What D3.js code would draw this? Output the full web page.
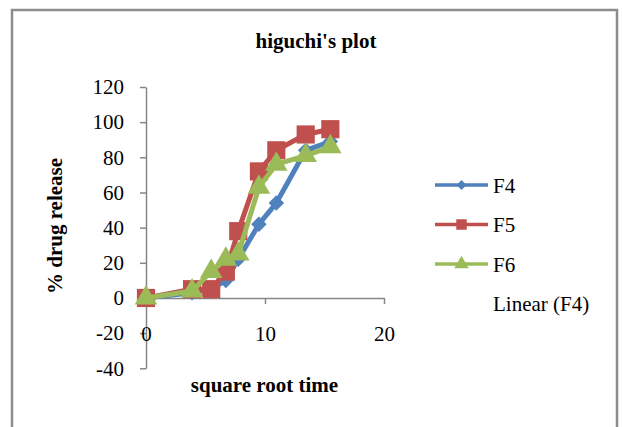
<!DOCTYPE html>
<html lang="en">
  <head>
    <meta charset="utf-8" />
    <title>higuchi's plot</title>
    <style>
      body { margin: 0; background: #fff; }
      svg text { font-family: "Liberation Serif", "Times New Roman", serif; fill: #000; }
    </style>
  </head>
  <body>
    <div id="graph-display"></div>

    <script src="https://d3js.org/d3.v7.min.js"></script>
    <script>
      // data
      const sqrtTime = [0, 3.87, 5.48, 6.71, 7.75, 9.49, 10.95, 13.42, 15.49];
      const f4 = [0, 3, 5, 10, 22, 42, 54, 84, 89];
      const f5 = [0, 5, 5, 15, 38, 72, 84, 93, 96];
      const f6 = [0, 4, 15, 22, 25, 63, 76, 81, 86];
      const seriesNames = ["F4", "F5", "F6"];
      const xTicks = [0, 10, 20];
      const yTicks = [-40, -20, 0, 20, 40, 60, 80, 100, 120];

      const width = 622, height = 427;
      const colors = ["#4F81BD", "#C0504D", "#9BBB59"];
      const shapes = [d3.symbolSquare, d3.symbolSquare, d3.symbolTriangle];
      const sizes = [120, 330, 220];
      const legendSizes = [50, 110, 90];

      const svg = d3.select("#graph-display")
        .append("svg")
        .attr("width", width)
        .attr("height", height);

      // outer frame
      svg.append("rect")
        .attr("x", 12).attr("y", 10)
        .attr("width", 605).attr("height", 440)
        .attr("fill", "#fff")
        .attr("stroke", "#8c8c8c")
        .attr("stroke-width", 2.5);

      const xScale = d3.scaleLinear().domain([0, 20]).range([146, 384]);
      const yScale = d3.scaleLinear().domain([-40, 120]).range([368.3, 87]);

      // plain hyphen for negatives, like the original
      const fmt = d => String(d);

      // y axis
      const yAxis = svg.append("g")
        .attr("transform", `translate(${xScale(0)},0)`)
        .call(d3.axisLeft(yScale).tickValues(yTicks).tickFormat(fmt).tickSize(6).tickSizeOuter(0).tickPadding(16));
      // x axis sits on y = 0
      const xAxis = svg.append("g")
        .attr("transform", `translate(0,${yScale(0)})`)
        .call(d3.axisBottom(xScale).tickValues(xTicks).tickFormat(fmt).tickSize(6).tickSizeOuter(0).tickPadding(22));

      [yAxis, xAxis].forEach(ax => {
        ax.selectAll("path, line").attr("stroke", "#868686").attr("stroke-width", 1.5);
        ax.selectAll("text")
          .attr("font-family", "Liberation Serif, Times New Roman, serif")
          .attr("font-size", 21)
          .attr("fill", "#000");
      });

      // title and axis titles
      svg.append("text")
        .attr("x", 316).attr("y", 48)
        .attr("text-anchor", "middle")
        .attr("font-weight", "bold")
        .attr("font-size", 21)
        .text("higuchi's plot");

      svg.append("text")
        .attr("x", 264.5).attr("y", 392)
        .attr("text-anchor", "middle")
        .attr("font-weight", "bold")
        .attr("font-size", 21)
        .text("square root time");

      svg.append("text")
        .attr("transform", "translate(62,226) rotate(-90)")
        .attr("text-anchor", "middle")
        .attr("font-weight", "bold")
        .attr("font-size", 21)
        .text("% drug release");

      // series
      const allSeries = [f4, f5, f6];
      const line = d3.line()
        .x(d => xScale(d[0]))
        .y(d => yScale(d[1]));

      allSeries.forEach((vals, i) => {
        const pts = sqrtTime.map((t, j) => [t, vals[j]]);
        const g = svg.append("g");
        g.append("path")
          .datum(pts)
          .attr("d", line)
          .attr("fill", "none")
          .attr("stroke", colors[i])
          .attr("stroke-width", 5)
          .attr("stroke-linejoin", "round");
        g.selectAll("path.mark")
          .data(pts)
          .enter()
          .append("path")
          .attr("class", "mark")
          .attr("d", d3.symbol().type(shapes[i]).size(sizes[i]))
          .attr("transform", d => `translate(${xScale(d[0])},${yScale(d[1])})` + (i === 0 ? " rotate(45)" : ""))
          .attr("fill", colors[i]);
      });

      // legend
      const legendY = [185, 224.5, 264];
      seriesNames.forEach((name, i) => {
        const lg = svg.append("g").attr("transform", `translate(0,${legendY[i]})`);
        lg.append("line")
          .attr("x1", 435).attr("x2", 488)
          .attr("y1", 0).attr("y2", 0)
          .attr("stroke", colors[i])
          .attr("stroke-width", 3.5);
        lg.append("path")
          .attr("d", d3.symbol().type(shapes[i]).size(legendSizes[i]))
          .attr("transform", `translate(461.5,0)` + (i === 0 ? " rotate(45)" : ""))
          .attr("fill", colors[i]);
        lg.append("text")
          .attr("x", 493).attr("y", 7.5)
          .attr("font-size", 21)
          .text(name);
      });
      svg.append("text")
        .attr("x", 493).attr("y", 311)
        .attr("font-size", 21)
        .text("Linear (F4)");
    </script>
  </body>
</html>
